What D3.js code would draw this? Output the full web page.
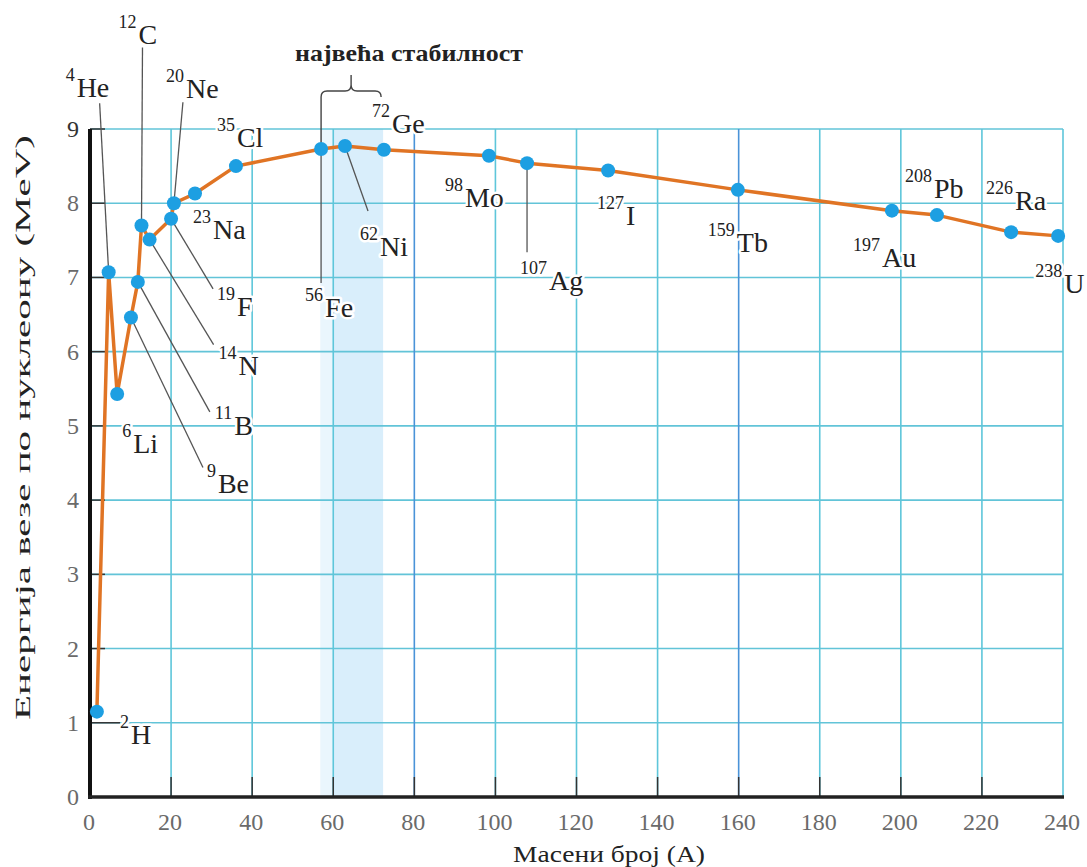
<!DOCTYPE html>
<html>
<head>
<meta charset="utf-8">
<script src="https://cdn.jsdelivr.net/npm/d3@7"></script>
<style>
  body { margin: 0; background: #fff; }
</style>
</head>
<body>
<svg id="chart"></svg>
<script>
// data
var massNumbers = [2, 4, 6, 9, 11, 12, 14, 19, 20, 23, 35, 56, 62, 72, 98, 107, 127, 159, 197, 208, 226, 238];
var symbols = ["H", "He", "Li", "Be", "B", "C", "N", "F", "Ne", "Na", "Cl", "Fe", "Ni", "Ge", "Mo", "Ag", "I", "Tb", "Au", "Pb", "Ra", "U"];
// where each point actually sits along the x axis in the picture
var plottedA = [1.7, 4.6, 6.7, 10.1, 11.8, 12.7, 14.7, 20.0, 20.7, 25.9, 36.0, 57.0, 62.9, 72.5, 98.4, 107.8, 127.8, 159.8, 197.8, 208.9, 227.2, 238.8];
var bindingEnergy = [1.15, 7.07, 5.43, 6.46, 6.94, 7.70, 7.51, 7.79, 8.00, 8.13, 8.50, 8.73, 8.77, 8.72, 8.64, 8.54, 8.44, 8.18, 7.90, 7.84, 7.61, 7.56];
var xTicks = [0, 20, 40, 60, 80, 100, 120, 140, 160, 180, 200, 220, 240];
var yTicks = [0, 1, 2, 3, 4, 5, 6, 7, 8, 9];
var stableRange = [56.8, 72.3];

// label placement (pixels relative to the point): [labelX, baselineY, leaderX, leaderY]
var labelLayout = {
  H:  [23, 32],
  He: [-43, -175, -9, -169],
  Li: [5, 59],
  Be: [76, 175, 72, 150],
  B:  [77, 153, 72, 130],
  C:  [-23, -181, 1, -178],
  N:  [69, 135, 64, 105],
  F:  [46, 97, 42, 70],
  Ne: [-8, -105, 9, -101],
  Na: [-2, 45],
  Cl: [-19, -19],
  Fe: [-16, 168, 0, 134],
  Ni: [15, 110, 23, 65],
  Ge: [-12, -17],
  Mo: [-44, 51],
  Ag: [-7, 127, 0, 89],
  I:  [-11, 54],
  Tb: [-30, 62],
  Au: [-39, 56],
  Pb: [-32, -17],
  Ra: [-25, -22],
  U:  [-23, 57]
};

var serif = "'Liberation Serif', 'DejaVu Serif', serif";

var data = massNumbers.map(function(a, i) {
  return {a: a, pos: plottedA[i], sym: symbols[i], e: bindingEnergy[i]};
});

var width = 1087, height = 867;
var svg = d3.select("#chart").attr("width", width).attr("height", height);

var x = d3.scaleLinear().domain([0, 240]).range([90, 1063]);
var y = d3.scaleLinear().domain([0, 9]).range([797, 129]);

// stability band
svg.append("rect")
  .attr("x", x(stableRange[0]))
  .attr("y", y(9))
  .attr("width", x(60) - x(stableRange[0]))
  .attr("height", y(0) - y(9))
  .attr("fill", "#eaf6fd");
svg.append("rect")
  .attr("x", x(60))
  .attr("y", y(9))
  .attr("width", x(stableRange[1]) - x(60))
  .attr("height", y(0) - y(9))
  .attr("fill", "#d9eefb");

// grid
svg.append("g").selectAll("line")
  .data(yTicks.slice(1))
  .enter().append("line")
  .attr("x1", x(0)).attr("x2", x(240))
  .attr("y1", function(d) { return y(d); })
  .attr("y2", function(d) { return y(d); })
  .attr("stroke", "#62c4d8")
  .attr("stroke-width", 1.6);

svg.append("g").selectAll("line")
  .data(xTicks.slice(1))
  .enter().append("line")
  .attr("x1", function(d) { return x(d); })
  .attr("x2", function(d) { return x(d); })
  .attr("y1", y(9)).attr("y2", y(0))
  .attr("stroke", function(d) { return (d == 80 || d == 160) ? "#4a93d8" : "#5ec6da"; })
  .attr("stroke-width", 1.6);

// short black ticks
svg.append("g").selectAll("line")
  .data(xTicks.slice(1, -1))
  .enter().append("line")
  .attr("x1", function(d) { return x(d); })
  .attr("x2", function(d) { return x(d); })
  .attr("y1", y(0) - 20).attr("y2", y(0))
  .attr("stroke", "#333")
  .attr("stroke-width", 1.5);

svg.append("g").selectAll("line")
  .data(yTicks.slice(1))
  .enter().append("line")
  .attr("x1", x(0))
  .attr("x2", function(d) { return d == 1 ? x(0) + 30 : x(0) + 15; })
  .attr("y1", function(d) { return y(d); })
  .attr("y2", function(d) { return y(d); })
  .attr("stroke", "#333")
  .attr("stroke-width", 1.5);

// axes lines
svg.append("line")
  .attr("x1", x(0)).attr("x2", x(0))
  .attr("y1", y(9)).attr("y2", y(0) + 2)
  .attr("stroke", "#111").attr("stroke-width", 4);
svg.append("line")
  .attr("x1", x(0) - 2).attr("x2", x(240) + 1)
  .attr("y1", y(0)).attr("y2", y(0))
  .attr("stroke", "#222").attr("stroke-width", 3.5);

// tick labels
svg.append("g").selectAll("text")
  .data(xTicks)
  .enter().append("text")
  .attr("x", function(d) { return x(d) - 1; })
  .attr("y", 830)
  .attr("text-anchor", "middle")
  .style("font-family", serif)
  .style("font-size", "24px")
  .style("fill", "#6a6a6a")
  .text(function(d) { return d; });

svg.append("g").selectAll("text")
  .data(yTicks)
  .enter().append("text")
  .attr("x", 79)
  .attr("y", function(d) { return y(d) + 8; })
  .attr("text-anchor", "end")
  .style("font-family", serif)
  .style("font-size", "24px")
  .style("fill", function(d) { return d == 9 ? "#333" : "#6a6a6a"; })
  .text(function(d) { return d; });

// axis titles
svg.append("text")
  .attr("x", 513)
  .attr("y", 862)
  .attr("textLength", 192)
  .attr("lengthAdjust", "spacingAndGlyphs")
  .style("font-family", serif)
  .style("font-size", "24px")
  .style("fill", "#222")
  .text("Масени број (A)");

svg.append("text")
  .attr("transform", "translate(30,720)rotate(-90)")
  .attr("textLength", 585)
  .attr("lengthAdjust", "spacingAndGlyphs")
  .style("font-family", serif)
  .style("font-size", "20px")
  .style("fill", "#222")
  .text("Енергија везе по нуклеону (MeV)");

// labels with white halo
var labels = svg.append("g").selectAll("text")
  .data(data)
  .enter().append("text")
  .attr("x", function(d) { return x(d.pos) + labelLayout[d.sym][0]; })
  .attr("y", function(d) { return y(d.e) + labelLayout[d.sym][1]; })
  .style("font-family", serif)
  .style("fill", "#222")
  .style("stroke", "#fff")
  .style("stroke-width", 5)
  .style("paint-order", "stroke")
  .style("stroke-linejoin", "round");
labels.append("tspan")
  .attr("dy", -16)
  .style("font-size", "18px")
  .text(function(d) { return d.a; });
labels.append("tspan")
  .attr("dx", 2)
  .attr("dy", 16)
  .style("font-size", "28px")
  .text(function(d) { return d.sym; });

// leader lines
svg.append("g").selectAll("line")
  .data(data.filter(function(d) { return labelLayout[d.sym].length > 2; }))
  .enter().append("line")
  .attr("x1", function(d) { return x(d.pos); })
  .attr("y1", function(d) { return y(d.e); })
  .attr("x2", function(d) { return x(d.pos) + labelLayout[d.sym][2]; })
  .attr("y2", function(d) { return y(d.e) + labelLayout[d.sym][3]; })
  .attr("stroke", "#555")
  .attr("stroke-width", 1.3);

// brace over the most stable region
var bl = x(plottedA[11]), br = x(stableRange[1]) - 2, bm = (bl + br) / 2, by = 91;
svg.append("path")
  .attr("d", "M" + bl + "," + (y(bindingEnergy[11])) + " L" + bl + "," + (by + 6) +
    " Q" + bl + "," + by + " " + (bl + 6) + "," + by +
    " L" + (bm - 6) + "," + by +
    " Q" + bm + "," + by + " " + bm + "," + (by - 6) +
    " L" + bm + "," + (by - 16) +
    " M" + bm + "," + (by - 6) +
    " Q" + bm + "," + by + " " + (bm + 6) + "," + by +
    " L" + (br - 6) + "," + by +
    " Q" + br + "," + by + " " + br + "," + (by + 6))
  .attr("fill", "none")
  .attr("stroke", "#444")
  .attr("stroke-width", 1.4);

svg.append("text")
  .attr("x", 409)
  .attr("y", 61)
  .attr("text-anchor", "middle")
  .attr("textLength", 228)
  .attr("lengthAdjust", "spacingAndGlyphs")
  .style("font-family", serif)
  .style("font-size", "24px")
  .style("font-weight", "bold")
  .style("fill", "#222")
  .text("највећа стабилност");

// curve
var line = d3.line()
  .x(function(d) { return x(d.pos); })
  .y(function(d) { return y(d.e); });

svg.append("path")
  .datum(data)
  .attr("d", line)
  .attr("fill", "none")
  .attr("stroke", "#e07424")
  .attr("stroke-width", 3.5)
  .attr("stroke-linejoin", "round");

svg.append("g").selectAll("circle")
  .data(data)
  .enter().append("circle")
  .attr("cx", function(d) { return x(d.pos); })
  .attr("cy", function(d) { return y(d.e); })
  .attr("r", 7)
  .attr("fill", "#1d9fe2");
</script>
</body>
</html>
